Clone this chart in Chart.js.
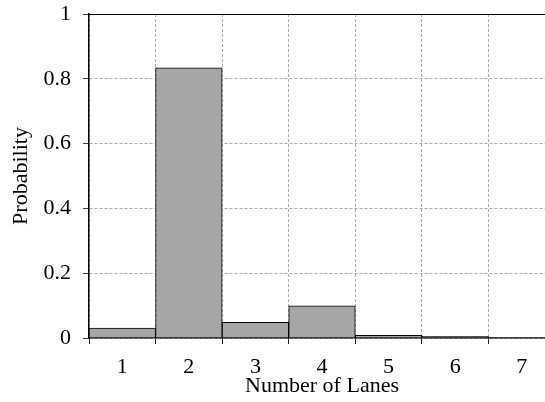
<!DOCTYPE html>
<html>
<head>
<meta charset="utf-8">
<script src="https://cdn.jsdelivr.net/npm/chart.js@4.4.0/dist/chart.umd.min.js"></script>
<style>
    html, body { margin: 0; padding: 0; background: #fff; overflow: hidden; }
    #wrap { width: 560px; height: 402px; }
</style>
</head>
<body>
<div id="wrap"><canvas id="chart" width="560" height="402"></canvas></div>
<script>
const lanes = ['1', '2', '3', '4', '5', '6', '7'];
const probability = [0.031, 0.834, 0.048, 0.099, 0.008, 0.005, 0.002];
const yTicks = [0, 0.2, 0.4, 0.6, 0.8, 1];

const serif = { family: '"Liberation Serif", "Times New Roman", serif', size: 22 };

// top frame line (the plot is open on the right, cut by the window)
const topFrame = {
    id: 'topFrame',
    afterDraw(chart) {
        const { ctx, chartArea } = chart;
        ctx.save();
        ctx.strokeStyle = '#000';
        ctx.lineWidth = 1;
        ctx.beginPath();
        ctx.moveTo(chartArea.left, chartArea.top + 0.5);
        ctx.lineTo(chartArea.right, chartArea.top + 0.5);
        ctx.stroke();
        ctx.restore();
    }
};

new Chart(document.getElementById('chart'), {
    type: 'bar',
    data: {
        labels: lanes,
        datasets: [{
            label: 'Probability',
            data: probability,
            backgroundColor: '#a6a6a6',
            borderColor: '#000',
            borderWidth: 1,
            barPercentage: 1,
            categoryPercentage: 1
        }]
    },
    options: {
        responsive: false,
        animation: false,
        layout: { padding: { top: 14, right: 5, bottom: 0, left: 0 } },
        plugins: {
            legend: { display: false },
            tooltip: { enabled: false }
        },
        scales: {
            x: {
                offset: true,
                grid: {
                    offset: true,
                    color: '#aaa',
                    tickColor: '#222',
                    tickLength: 6
                },
                border: { color: '#000', width: 1.5, dash: [3, 2] },
                ticks: { color: '#000', font: serif, padding: 10 },
                title: { display: true, text: 'Number of Lanes', color: '#000', font: serif, padding: { top: 0, bottom: 3 } },
                afterFit(scale) { scale.height = 64; }
            },
            y: {
                min: 0,
                max: 1,
                afterBuildTicks(scale) {
                    scale.ticks = yTicks.map(v => ({ value: v }));
                },
                grid: {
                    color: '#aaa',
                    tickColor: '#444',
                    tickLength: 6
                },
                border: { color: '#000', width: 1.5, dash: [3, 2] },
                ticks: {
                    color: '#000',
                    font: serif,
                    padding: 12,
                    callback: v => String(v)
                },
                title: { display: true, text: 'Probability', color: '#000', font: serif, padding: { top: 8, bottom: 0 } },
                afterFit(scale) {
                    scale.width = 89;
                    scale.paddingTop = 0;
                    scale.paddingBottom = 0;
                }
            }
        }
    },
    plugins: [topFrame]
});
</script>
</body>
</html>
